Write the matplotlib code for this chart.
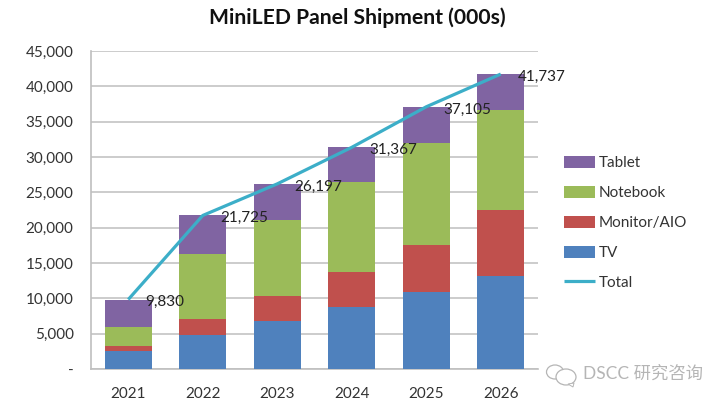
import matplotlib
matplotlib.use("Agg")
import matplotlib.pyplot as plt
from matplotlib.patches import Ellipse, Polygon
from matplotlib.ticker import FuncFormatter

years = ["2021", "2022", "2023", "2024", "2025", "2026"]
tv = [2550, 4770, 6800, 8830, 10950, 13120]
monitor = [660, 2360, 3590, 4860, 6650, 9350]
notebook = [2690, 9110, 10710, 12840, 14450, 14200]
tablet = [3930, 5485, 5097, 4837, 5055, 5067]
total = [9830, 21725, 26197, 31367, 37105, 41737]

C_TV, C_MON, C_NB, C_TAB, C_TOTAL = "#4F81BD", "#C0504D", "#9BBB59", "#8064A2", "#3CAEC8"
GRID = "#BFBFBF"
TEXT = "#333333"

plt.rcParams["font.family"] = ["Lato", "DejaVu Sans"]
fig = plt.figure(figsize=(7.25, 4.07), dpi=100, facecolor="white")
ax = fig.add_axes([91 / 725, 1 - 369 / 407, 447 / 725, 318 / 407])

x = list(range(len(years)))
width = 0.635
bottom = [0] * len(x)
bars = []
for vals, col, name in [(tv, C_TV, "TV"), (monitor, C_MON, "Monitor/AIO"),
                        (notebook, C_NB, "Notebook"), (tablet, C_TAB, "Tablet")]:
    b = ax.bar(x, vals, width, bottom=bottom, color=col, label=name, zorder=3)
    bars.append(b)
    bottom = [p + q for p, q in zip(bottom, vals)]
line, = ax.plot(x, total, color=C_TOTAL, lw=2.3, zorder=4, label="Total", solid_capstyle="butt")

for xi, t in zip(x, total):
    ax.annotate(f"{t:,}", (xi, t), xytext=(12.5, -2), textcoords="offset points",
                ha="left", va="center", fontsize=11, color="#222222", zorder=5)

ax.set_xlim(-0.5, 5.5)
ax.set_ylim(0, 45000)
ax.set_yticks(range(0, 45001, 5000))
ax.yaxis.set_major_formatter(FuncFormatter(lambda v, _: "-" if v == 0 else f"{int(v):,}"))
ax.set_xticks(x)
ax.set_xticklabels(years)
ax.tick_params(axis="both", length=0, labelsize=11, labelcolor=TEXT)
ax.tick_params(axis="x", pad=13)
ax.tick_params(axis="y", pad=12.5)
ax.grid(axis="y", color=GRID, lw=1.1, zorder=1)
ax.set_axisbelow(True)
for s in ("top", "right"):
    ax.spines[s].set_visible(False)
for s in ("left", "bottom"):
    ax.spines[s].set_color(GRID)
    ax.spines[s].set_linewidth(1.2)

fig.text(357 / 725, 1 - 18 / 407, "MiniLED Panel Shipment (000s)", ha="center", va="center",
         fontsize=15.2, fontweight="bold", color="#111111")

handles = [bars[3], bars[2], bars[1], bars[0], line]
leg = ax.legend(handles, ["Tablet", "Notebook", "Monitor/AIO", "TV", "Total"],
                loc="center left", bbox_to_anchor=(564 / 725, 1 - 223 / 407),
                bbox_transform=fig.transFigure, frameon=False, fontsize=11,
                labelcolor=TEXT, handlelength=2.03, handleheight=0.85,
                handletextpad=0.26, labelspacing=1.02, borderpad=0, borderaxespad=0)

# watermark
WM = "#B5B5B5"
W, H = 725, 407
def fx(px): return px / W
def fy(py): return 1 - py / H
for cx, cy, w, h in [(555, 372, 17, 14), (566, 377, 20, 16)]:
    fig.add_artist(Ellipse((fx(cx), fy(cy)), w / W, h / H, transform=fig.transFigure,
                           facecolor="white", edgecolor=WM, lw=0.9, zorder=6))
fig.add_artist(Polygon([(fx(568), fy(384)), (fx(574), fy(383)), (fx(573), fy(387))],
                       transform=fig.transFigure, facecolor="white", edgecolor=WM, lw=0.7, zorder=6))
fig.text(583 / W, fy(374), "DSCC 研究咨询", ha="left", va="center", fontsize=12.5, color=WM,
         family=["Lato", "Noto Sans CJK SC", "DejaVu Sans"])

fig.savefig("out.png", dpi=100)
